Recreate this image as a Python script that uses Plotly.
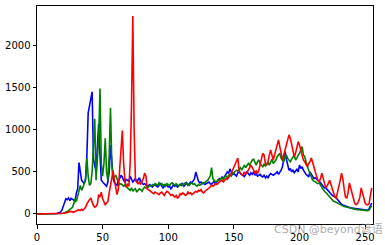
import plotly.graph_objects as go

intensity = list(range(256))

blue = [
    0,0,0,0,0,0,0,0,0,0,
    0,0,0,1,3,6,10,15,25,45,
    90,140,180,170,190,160,185,175,160,150,
    250,300,610,500,400,380,360,420,700,1200,
    1280,1350,1450,650,560,500,800,1070,700,400,
    380,360,340,330,380,500,820,600,420,370,
    350,340,400,420,460,440,400,380,410,400,
    390,450,420,380,400,420,380,400,430,390,
    370,350,360,340,330,340,350,330,320,340,
    350,330,320,340,360,330,310,330,350,340,
    320,330,300,320,350,330,340,320,330,350,
    340,360,330,350,370,340,360,380,370,400,
    420,500,430,390,370,380,360,370,350,360,
    370,380,360,350,370,390,360,380,400,420,
    410,440,420,450,470,500,480,535,500,470,
    480,470,450,490,500,480,470,460,445,470,
    500,480,460,490,470,500,460,480,450,460,
    470,450,440,460,430,450,425,460,480,470,
    460,470,480,500,470,490,520,560,640,740,
    650,580,520,540,500,520,490,510,530,500,
    580,540,560,520,490,470,460,440,500,470,
    440,420,430,410,400,390,370,350,320,310,
    310,290,270,250,230,220,210,205,190,170,
    150,130,115,107,100,95,85,80,75,72,
    70,68,65,62,60,58,55,55,52,50,
    50,48,45,60,110,130,
]

green = [
    0,0,0,0,0,0,0,0,0,0,
    0,0,0,0,0,0,1,2,4,6,
    10,15,20,30,40,50,60,80,120,180,
    150,220,280,340,280,330,360,400,660,450,
    340,360,500,800,1130,400,700,900,1490,600,
    450,600,900,500,400,700,1260,600,420,440,
    460,420,380,350,360,340,330,350,320,310,
    300,280,310,270,290,300,260,280,300,290,
    270,300,320,310,330,320,340,330,350,340,
    360,350,340,370,350,360,340,350,330,360,
    350,340,360,370,350,340,360,350,330,350,
    360,340,350,370,360,350,340,360,370,350,
    360,340,330,350,340,350,370,360,380,390,
    400,420,450,550,420,400,380,390,410,400,
    420,430,410,440,450,430,460,470,450,480,
    490,500,520,510,530,550,520,560,580,550,
    570,600,580,620,640,650,600,580,620,640,
    600,580,560,590,570,600,610,580,620,650,
    600,620,640,680,700,720,660,640,620,680,
    700,660,640,620,650,680,700,640,660,700,
    720,760,800,700,680,620,560,520,480,430,
    400,390,385,370,360,370,340,310,290,270,
    260,240,220,200,180,160,150,145,140,130,
    120,110,100,95,90,85,83,80,75,70,
    65,60,58,55,52,50,48,45,42,40,
    40,38,40,45,80,100,
]

red = [
    0,0,0,0,0,0,0,0,0,0,
    0,0,0,0,0,0,1,2,3,5,
    8,10,15,20,20,25,30,25,20,30,
    40,45,50,40,55,45,60,80,120,150,
    170,190,130,100,80,90,120,230,200,260,
    180,150,110,130,150,250,350,450,515,400,
    300,230,300,500,800,990,600,400,320,350,
    330,600,1300,2350,1000,400,380,360,380,350,
    390,420,485,450,300,285,270,260,250,240,
    260,250,240,230,250,260,240,220,250,270,
    260,240,220,230,210,200,220,190,200,240,
    230,250,240,220,230,260,240,250,230,240,
    250,270,260,280,270,290,260,250,270,280,
    290,300,320,345,330,340,360,350,370,380,
    390,400,380,400,420,410,430,450,480,520,
    560,600,640,665,520,480,470,460,500,480,
    490,520,560,580,550,520,490,510,480,520,
    600,650,720,700,600,580,620,700,760,700,
    640,700,760,820,880,800,700,640,700,760,
    820,880,940,900,820,760,680,720,800,860,
    820,760,700,640,620,580,560,600,620,665,
    620,560,500,450,400,385,420,485,430,360,
    310,330,380,400,350,300,250,200,190,250,
    320,400,485,420,300,200,190,250,370,300,
    230,170,130,110,120,150,200,310,250,180,
    130,110,110,120,200,310,
]

x_ticks = [0, 50, 100, 150, 200, 250]
y_ticks = [0, 500, 1000, 1500, 2000]

fig = go.Figure()
for vals, col in ((blue, "#0000ff"), (green, "#008000"), (red, "#ff0000")):
    fig.add_trace(go.Scatter(x=intensity, y=vals, mode="lines",
                             line=dict(color=col, width=1.6), showlegend=False))

axis_common = dict(showline=True, linecolor="black", linewidth=1, mirror=True,
                   ticks="outside", ticklen=3.5, tickcolor="black", tickwidth=1,
                   showgrid=False, zeroline=False, automargin=False,
                   tickfont=dict(family="DejaVu Sans", size=10, color="black"))

fig.update_layout(
    width=385, height=245,
    margin=dict(l=37, r=12, t=6, b=21, autoexpand=False),
    paper_bgcolor="white", plot_bgcolor="white",
    xaxis=dict(range=[0, 256], tickvals=x_ticks, **axis_common),
    yaxis=dict(range=[-119, 2470], tickvals=y_ticks, **axis_common),
    annotations=[dict(text="CSDN @beyond谚语", xref="paper", yref="paper",
                      x=0.70, y=-0.025, xanchor="left", yanchor="middle",
                      showarrow=False,
                      font=dict(family="DejaVu Sans, Noto Sans CJK SC", size=11,
                                color="rgba(150,150,150,0.8)"))],
)

fig.write_html("out.html")
